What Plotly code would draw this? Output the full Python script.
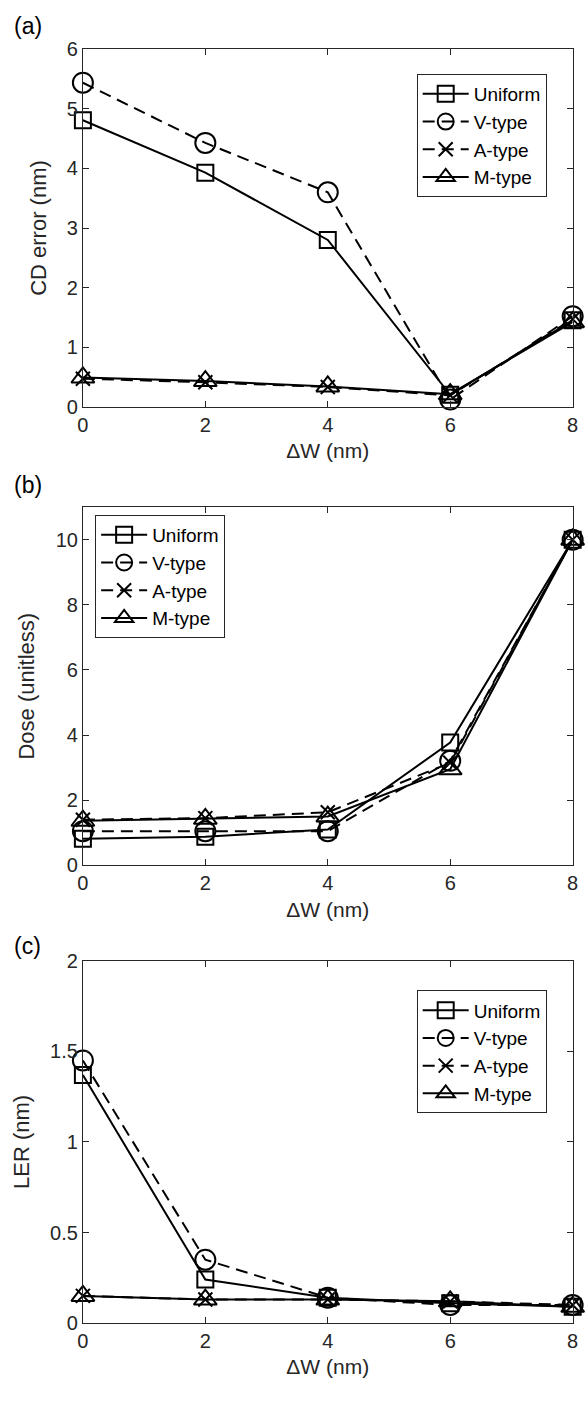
import plotly.graph_objects as go

dw = [0, 2, 4, 6, 8]
series = ["Uniform", "V-type", "A-type", "M-type"]

# (a) CD error (nm)
cd_uniform = [4.81, 3.93, 2.80, 0.20, 1.45]
cd_vtype = [5.44, 4.43, 3.60, 0.12, 1.52]
cd_atype = [0.47, 0.41, 0.33, 0.19, 1.47]
cd_mtype = [0.49, 0.43, 0.34, 0.21, 1.42]

# (b) Dose (unitless)
dose_uniform = [0.82, 0.88, 1.10, 3.77, 10.0]
dose_vtype = [1.05, 1.05, 1.05, 3.21, 10.0]
dose_atype = [1.40, 1.45, 1.63, 3.15, 10.0]
dose_mtype = [1.37, 1.43, 1.50, 2.95, 10.0]

# (c) LER (nm)
ler_uniform = [1.37, 0.24, 0.14, 0.11, 0.09]
ler_vtype = [1.45, 0.35, 0.14, 0.10, 0.10]
ler_atype = [0.15, 0.13, 0.13, 0.12, 0.10]
ler_mtype = [0.15, 0.13, 0.13, 0.12, 0.09]

panels = [
    ("x", "y", "legend", [cd_uniform, cd_vtype, cd_atype, cd_mtype]),
    ("x2", "y2", "legend2", [dose_uniform, dose_vtype, dose_atype, dose_mtype]),
    ("x3", "y3", "legend3", [ler_uniform, ler_vtype, ler_atype, ler_mtype]),
]

styles = [
    dict(symbol="square-open", size=16, dash="solid"),
    dict(symbol="circle-open", size=20, dash="12px,7px"),
    dict(symbol="x-thin-open", size=14, dash="12px,7px"),
    dict(symbol="triangle-up-open", size=20, dash="solid"),
]

FONT = "Liberation Sans, Arial, sans-serif"
TXT = "#262626"

fig = go.Figure()
for xa, ya, lg, vals in panels:
    for name, v, st in zip(series, vals, styles):
        fig.add_trace(go.Scatter(
            x=dw, y=v, name=name, mode="lines+markers",
            xaxis=xa, yaxis=ya, legend=lg, cliponaxis=False,
            line=dict(color="black", width=2, dash=st["dash"]),
            marker=dict(symbol=st["symbol"], size=st["size"], color="black",
                        line=dict(width=2, color="black")),
        ))

W, H = 586, 1401
xdom = [78.5 / W, 578.5 / W]

def ydom(top, bottom):
    return [(H - bottom) / H, (H - top) / H]

axis_common = dict(
    showline=True, mirror="ticks", linecolor=TXT, linewidth=1,
    ticks="inside", ticklen=6, tickwidth=1, tickcolor=TXT,
    showgrid=False, zeroline=False,
    tickfont=dict(family=FONT, size=20, color=TXT),
)

def xaxis(anchor):
    return dict(axis_common, domain=xdom, range=[0, 8], tickvals=dw,
                anchor=anchor,
                title=dict(text="ΔW (nm)", font=dict(family=FONT, size=21, color=TXT), standoff=8))

def yaxis(anchor, dom, rng, tv, tt, title):
    return dict(axis_common, domain=dom, range=rng, tickvals=tv, ticktext=tt,
                anchor=anchor,
                title=dict(text=title, font=dict(family=FONT, size=22, color=TXT), standoff=14))

legend_common = dict(
    bgcolor="white", bordercolor=TXT, borderwidth=1,
    font=dict(family=FONT, size=19, color="black"),
    tracegroupgap=0, itemwidth=46,
)

fig.update_layout(
    width=W, height=H,
    margin=dict(l=0, r=0, t=0, b=0),
    paper_bgcolor="white", plot_bgcolor="white",
    showlegend=True,
    xaxis=xaxis("y"),
    xaxis2=xaxis("y2"),
    xaxis3=xaxis("y3"),
    yaxis=yaxis("x", ydom(39, 402), [0, 6], [0, 1, 2, 3, 4, 5, 6],
                ["0", "1", "2", "3", "4", "5", "6"], "CD error (nm)"),
    yaxis2=yaxis("x2", ydom(504, 868), [0, 11], [0, 2, 4, 6, 8, 10],
                 ["0", "2", "4", "6", "8", "10"], "Dose (unitless)"),
    yaxis3=yaxis("x3", ydom(965, 1333), [0, 2], [0, 0.5, 1, 1.5, 2],
                 ["0", "0.5", "1", "1.5", "2"], "LER (nm)"),
    legend=dict(legend_common, x=552 / W, xanchor="right", y=(H - 64) / H, yanchor="top"),
    legend2=dict(legend_common, x=91 / W, xanchor="left", y=(H - 512) / H, yanchor="top"),
    legend3=dict(legend_common, x=552 / W, xanchor="right", y=(H - 995) / H, yanchor="top"),
)

for label, ypix in [("(a)", 15), ("(b)", 482), ("(c)", 950)]:
    fig.add_annotation(text=label, xref="paper", yref="paper",
                       x=6 / W, y=(H - ypix) / H, xanchor="left", yanchor="middle",
                       showarrow=False, font=dict(family=FONT, size=23, color="black"))

fig.write_html("out.html")
